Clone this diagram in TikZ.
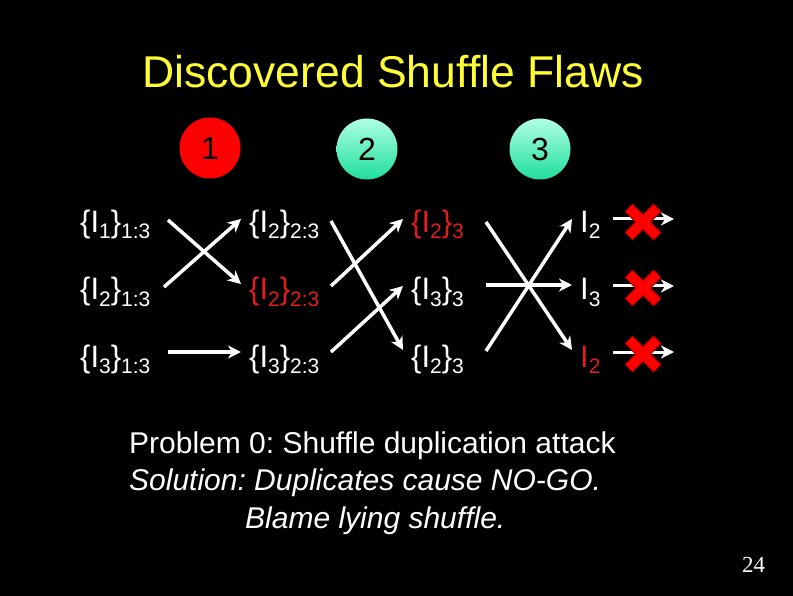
\documentclass[tikz,border=0pt]{standalone}
\usepackage{fontspec}
\setmainfont{Liberation Sans}
\newfontfamily\timesfont{Liberation Serif}
\usetikzlibrary{arrows.meta}
\frenchspacing
\definecolor{ttl}{RGB}{255,255,51}
\definecolor{hl}{RGB}{225,30,30}
\definecolor{mintt}{RGB}{175,255,228}
\definecolor{mintb}{RGB}{30,222,155}
\definecolor{xred}{RGB}{255,0,0}
\definecolor{xdark}{RGB}{150,0,0}
\newcommand{\mainsz}{\fontsize{31}{31}\selectfont}
\newcommand{\subsz}{\fontsize{21}{21}\selectfont}
\newcommand{\lbl}[2]{{\mainsz\{I\raisebox{-6pt}{\subsz #1}\}\raisebox{-6pt}{\subsz #2}}}
\newcommand{\lone}[1]{{\mainsz I\raisebox{-6pt}{\subsz #1}}}
\tikzset{
  lab/.style={anchor=base west, inner sep=0pt, text=white},
  arr/.style={white, line width=3.5pt, -{Stealth[length=13pt,width=13pt,inset=4pt]}},
  stage/.style={circle, minimum size=61pt, inner sep=0pt, font=\fontsize{32}{32}\selectfont, text=black},
  xstroke/.style={line width=#1, line cap=butt},
}
\newcommand{\redx}[1]{%
  \draw[xdark, xstroke=11.5pt] ([shift={(-14.5,-14.5)}]#1) -- ([shift={(14.5,14.5)}]#1);
  \draw[xdark, xstroke=11.5pt] ([shift={(-14.5,14.5)}]#1) -- ([shift={(14.5,-14.5)}]#1);
  \draw[xred, xstroke=9.5pt] ([shift={(-14,-14)}]#1) -- ([shift={(14,14)}]#1);
  \draw[xred, xstroke=9.5pt] ([shift={(-14,14)}]#1) -- ([shift={(14,-14)}]#1);
}
\begin{document}
\begin{tikzpicture}[x=1pt, y=-1pt]
\fill[black] (0,0) rectangle (793,596);
\useasboundingbox (0,0) rectangle (793,596);

% title
\node[anchor=base, inner sep=0pt, text=ttl, font=\fontsize{44.5}{44.5}\selectfont] (title) at (393,88) {Discovered Shuffle Flaws};

% stage circles
\node[stage, fill=xred] (s1) at (210,148) {1};
\node[stage, top color=mintt, bottom color=mintb] (s2) at (367,149) {2};
\node[stage, top color=mintt, bottom color=mintb] (s3) at (540,149) {3};

% column 1
\node[lab] (a1) at (80,233) {\lbl{1}{1:3}};
\node[lab] (a2) at (80,300) {\lbl{2}{1:3}};
\node[lab] (a3) at (80,367) {\lbl{3}{1:3}};
% column 2
\node[lab] (b1) at (249,233) {\lbl{2}{2:3}};
\node[lab, text=hl] (b2) at (249,300) {\lbl{2}{2:3}};
\node[lab] (b3) at (249,367) {\lbl{3}{2:3}};
% column 3
\node[lab, text=hl] (c1) at (411,233) {\lbl{2}{3}};
\node[lab] (c2) at (411,300) {\lbl{3}{3}};
\node[lab] (c3) at (411,367) {\lbl{2}{3}};
% column 4
\node[lab] (d1) at (580,233) {\lone{2}};
\node[lab] (d2) at (580,300) {\lone{3}};
\node[lab, text=hl] (d3) at (580,367) {\lone{2}};

% arrow end points
\coordinate (p1a) at (168,220); \coordinate (q1a) at (241,284);
\coordinate (p1b) at (164,287); \coordinate (q1b) at (241,219);
\coordinate (p1c) at (168,352); \coordinate (q1c) at (241,352);
\coordinate (p2a) at (331,221); \coordinate (q2a) at (403,350);
\coordinate (p2b) at (331,286); \coordinate (q2b) at (403,219);
\coordinate (p2c) at (331,352); \coordinate (q2c) at (403,286);
\coordinate (p3a) at (486,222); \coordinate (q3a) at (572,350);
\coordinate (p3b) at (486,351); \coordinate (q3b) at (572,219);
\coordinate (p3c) at (486,285); \coordinate (q3c) at (572,285);

\draw[arr] (p1a) -- (q1a);
\draw[arr] (p1b) -- (q1b);
\draw[arr] (p1c) -- (q1c);
\draw[arr] (p2a) -- (q2a);
\draw[arr] (p2b) -- (q2b);
\draw[arr] (p2c) -- (q2c);
\draw[arr] (p3a) -- (q3a);
\draw[arr] (p3b) -- (q3b);
\draw[arr] (p3c) -- (q3c);

% blocked outputs
\coordinate (o1) at (613,219); \coordinate (e1) at (674,219);
\coordinate (o2) at (613,286); \coordinate (e2) at (674,286);
\coordinate (o3) at (613,352); \coordinate (e3) at (674,352);
\draw[arr, line width=3pt] (o1) -- (e1);
\draw[arr, line width=3pt] (o2) -- (e2);
\draw[arr, line width=3pt] (o3) -- (e3);
\coordinate (x1) at (643,222);
\coordinate (x2) at (643,288);
\coordinate (x3) at (643,354);
\redx{x1}
\redx{x2}
\redx{x3}

% bottom text
\node[lab, font=\fontsize{30}{30}\selectfont] (t1) at (129,453) {Problem 0: Shuffle duplication attack};
\node[lab, font=\fontsize{30}{30}\selectfont\itshape] (t2) at (129,490) {Solution: Duplicates cause NO-GO.};
\node[lab, font=\fontsize{30}{30}\selectfont\itshape] (t3) at (245,528) {Blame lying shuffle.};

% page number
\node[lab, font=\timesfont\fontsize{23}{23}\selectfont] (pg) at (742,572) {24};
\end{tikzpicture}
\end{document}
